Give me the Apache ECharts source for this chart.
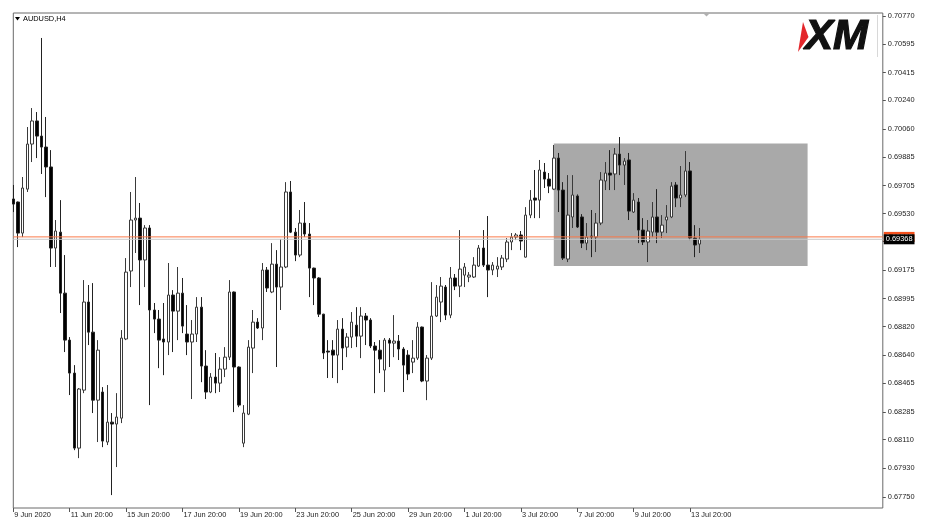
<!DOCTYPE html>
<html><head><meta charset="utf-8">
<script src="https://cdn.jsdelivr.net/npm/echarts@6/dist/echarts.min.js"></script>
<style>html,body{margin:0;padding:0;background:#fff}#c{width:934px;height:527px}</style>
</head><body><div id="c"></div>
<script>
const symbolName = 'AUDUSD,H4';
const opens = [
0.69621,0.69602,0.69407,0.69683,0.69966,0.70111,0.70016,0.69947,0.69822,0.69313,
0.69413,0.69030,0.68735,0.68528,0.68057,0.68421,0.68974,0.68785,0.68358,0.68409,
0.68095,0.68220,0.68208,0.68245,0.68742,0.69169,0.69489,0.69501,0.69238,0.69439,
0.68924,0.68867,0.68742,0.68723,0.69018,0.68917,0.69030,0.68773,0.68723,0.68773,
0.68942,0.68572,0.68409,0.68503,0.68465,0.68553,0.68628,0.69037,0.68566,0.68088,
0.68270,0.68685,0.68848,0.68811,0.69175,0.69037,0.69212,0.69068,0.69194,0.69665,
0.69413,0.69269,0.69470,0.69401,0.69187,0.69125,0.68898,0.68666,0.68672,0.68641,
0.68804,0.68691,0.68754,0.68829,0.68760,0.68886,0.68861,0.68698,0.68672,0.68547,
0.68735,0.68716,0.68729,0.68679,0.68641,0.68597,0.68622,0.68817,0.68478,0.68622,
0.68886,0.68974,0.69068,0.68892,0.69125,0.69074,0.69143,0.69131,0.69131,0.69200,
0.69313,0.69206,0.69175,0.69181,0.69194,0.69244,0.69351,0.69382,0.69395,0.69256,
0.69520,0.69627,0.69614,0.69790,0.69746,0.69683,0.69878,0.69677,0.69244,0.69508,
0.69640,0.69508,0.69344,0.69388,0.69382,0.69470,0.69734,0.69784,0.69778,0.69903,
0.69834,0.69866,0.69539,0.69602,0.69426,0.69351,0.69413,0.69508,0.69413,0.69489,
0.69508,0.69709,0.69627,0.69646,0.69797,0.69376,0.69338];
const closes = [
0.69589,0.69407,0.69690,0.69966,0.70111,0.70016,0.69947,0.69822,0.69313,0.69420,
0.69030,0.68735,0.68528,0.68057,0.68428,0.68974,0.68785,0.68358,0.68672,0.68101,
0.68220,0.68208,0.68252,0.68748,0.69162,0.69489,0.69501,0.69238,0.69439,0.68924,
0.68867,0.68735,0.68723,0.69018,0.68917,0.69030,0.68823,0.68723,0.68773,0.68942,
0.68572,0.68409,0.68503,0.68465,0.68553,0.68628,0.69037,0.68566,0.68327,0.68277,
0.68691,0.68848,0.68811,0.69175,0.69062,0.69212,0.69068,0.69194,0.69665,0.69413,
0.69269,0.69470,0.69401,0.69187,0.69125,0.68898,0.68654,0.68660,0.68641,0.68804,
0.68685,0.68754,0.68848,0.68760,0.68886,0.68861,0.68698,0.68672,0.68616,0.68735,
0.68716,0.68729,0.68679,0.68578,0.68522,0.68622,0.68817,0.68478,0.68622,0.68886,
0.69005,0.69074,0.68892,0.69125,0.69074,0.69181,0.69194,0.69143,0.69206,0.69313,
0.69206,0.69175,0.69206,0.69200,0.69250,0.69351,0.69382,0.69395,0.69357,0.69520,
0.69614,0.69614,0.69803,0.69746,0.69702,0.69878,0.69677,0.69250,0.69520,0.69646,
0.69445,0.69344,0.69382,0.69382,0.69470,0.69740,0.69784,0.69771,0.69903,0.69834,
0.69859,0.69545,0.69614,0.69426,0.69351,0.69420,0.69508,0.69413,0.69457,0.69508,
0.69702,0.69627,0.69646,0.69797,0.69376,0.69332,0.69368];
const lows = [
0.69539,0.69319,0.69382,0.69665,0.69853,0.69878,0.69778,0.69633,0.69194,0.69194,
0.68905,0.68660,0.68390,0.68044,0.67994,0.68402,0.68704,0.68277,0.68095,0.68063,
0.68076,0.67762,0.67938,0.68214,0.68735,0.69068,0.69282,0.68955,0.69068,0.68327,
0.68779,0.68559,0.68515,0.68641,0.68660,0.68735,0.68779,0.68641,0.68365,0.68723,
0.68471,0.68365,0.68402,0.68402,0.68409,0.68503,0.68610,0.68283,0.68314,0.68063,
0.68264,0.68528,0.68805,0.68735,0.69037,0.69030,0.68566,0.68924,0.69187,0.69407,
0.69231,0.69256,0.69382,0.69005,0.68955,0.68880,0.68616,0.68497,0.68497,0.68465,
0.68547,0.68628,0.68685,0.68691,0.68622,0.68704,0.68685,0.68402,0.68528,0.68409,
0.68566,0.68628,0.68610,0.68409,0.68484,0.68528,0.68610,0.68471,0.68358,0.68610,
0.68880,0.68848,0.68861,0.68873,0.69049,0.69005,0.69068,0.69099,0.69125,0.69194,
0.69194,0.69005,0.69143,0.69131,0.69175,0.69225,0.69300,0.69363,0.69300,0.69253,
0.69501,0.69501,0.69501,0.69690,0.69658,0.69677,0.69539,0.69238,0.69225,0.69439,
0.69439,0.69313,0.69300,0.69256,0.69288,0.69457,0.69677,0.69677,0.69677,0.69771,
0.69709,0.69489,0.69533,0.69344,0.69332,0.69225,0.69382,0.69344,0.69376,0.69407,
0.69501,0.69570,0.69570,0.69633,0.69363,0.69256,0.69282];
const highs = [
0.69709,0.69605,0.69759,0.70073,0.70192,0.70167,0.70632,0.70136,0.69928,0.69489,
0.69614,0.69269,0.68754,0.68578,0.68434,0.69112,0.69081,0.69093,0.68735,0.68440,
0.68453,0.68277,0.68402,0.68798,0.69250,0.69665,0.69759,0.69596,0.69457,0.69457,
0.68968,0.68924,0.68968,0.69219,0.69049,0.69194,0.69125,0.68955,0.68861,0.69005,
0.69005,0.68672,0.68528,0.68654,0.68628,0.68691,0.69112,0.69040,0.68570,0.68327,
0.68735,0.68924,0.68873,0.69219,0.69194,0.69344,0.69300,0.69370,0.69727,0.69734,
0.69439,0.69552,0.69602,0.69470,0.69190,0.69130,0.68900,0.68735,0.68735,0.68861,
0.68873,0.68779,0.68911,0.68942,0.68942,0.68905,0.68873,0.68723,0.68735,0.68748,
0.68748,0.68892,0.68767,0.68691,0.68672,0.68735,0.68848,0.68820,0.68641,0.69099,
0.69081,0.69131,0.69081,0.69194,0.69150,0.69426,0.69219,0.69162,0.69256,0.69332,
0.69426,0.69514,0.69225,0.69256,0.69269,0.69376,0.69407,0.69407,0.69420,0.69570,
0.69677,0.69803,0.69866,0.69847,0.69784,0.69960,0.69910,0.69727,0.69771,0.69771,
0.69650,0.69526,0.69470,0.69552,0.69533,0.69790,0.69853,0.69928,0.69941,0.70010,
0.69878,0.69910,0.69658,0.69627,0.69501,0.69489,0.69602,0.69683,0.69520,0.69583,
0.69727,0.69727,0.69828,0.69922,0.69853,0.69457,0.69439];
const yTickLabels = ['0.70770','0.70595','0.70415','0.70240','0.70060','0.69885','0.69705','0.69530','0.69355',
  '0.69175','0.68995','0.68820','0.68640','0.68465','0.68285','0.68110','0.67930','0.67750'];
const xTickIdx = [0,12,24,36,48,60,72,84,96,108,120,132,144];
const xTickLabels = ['9 Jun 2020','11 Jun 20:00','15 Jun 20:00','17 Jun 20:00','19 Jun 20:00','23 Jun 20:00',
  '25 Jun 20:00','29 Jun 20:00','1 Jul 20:00','3 Jul 20:00','7 Jul 20:00','9 Jul 20:00','13 Jul 20:00'];
const askPrice = 0.69383;
const bidPrice = 0.69368;
const boxStartBar = 115, boxEndBar = 169;
const boxHigh = 0.69969, boxLow = 0.69200;
const totalSlots = 186;

// H4 bar times (weekdays only), starting 9 Jun 2020 20:00
const months = ['Jan','Feb','Mar','Apr','May','Jun','Jul','Aug','Sep','Oct','Nov','Dec'];
const categories = [];
let t = Date.UTC(2020, 5, 9, 20);
while (categories.length < totalSlots) {
  const d = new Date(t);
  const wd = d.getUTCDay();
  if (wd !== 0 && wd !== 6) {
    categories.push(d.getUTCDate() + ' ' + months[d.getUTCMonth()] + ' ' + String(d.getUTCHours()).padStart(2, '0') + ':00');
  }
  t += 4 * 3600 * 1000;
}
const labelAt = {};
xTickIdx.forEach((i, k) => { labelAt[i] = xTickLabels[k]; });
const candles = opens.map((o, i) => [o, closes[i], lows[i], highs[i]]);
const yTickValues = yTickLabels.map(Number);
const firstCat = categories[0], lastCat = categories[totalSlots - 1];

const FONT = 'Liberation Sans, Arial, sans-serif';
const FS = 7.4;
function priceLine(price, color, labelBg, z) {
  return {
    type: 'line', z: z, silent: true, symbol: 'none', animation: false,
    data: [[firstCat, price], [lastCat, price]],
    lineStyle: {color: color, width: 1, type: 'solid'},
    endLabel: {show: true, distance: 1, formatter: price.toFixed(5), color: '#fff', backgroundColor: labelBg,
      padding: [2, 2, 1, 2], fontSize: FS, fontFamily: FONT}
  };
}
const chart = echarts.init(document.getElementById('c'), null, {renderer: 'canvas'});
chart.setOption({
  animation: false,
  backgroundColor: '#ffffff',
  grid: {left: 13.3, right: 51.2, top: 13, bottom: 19, show: true, borderColor: '#6a6a6a', borderWidth: 1, backgroundColor: 'transparent'},
  xAxis: {
    type: 'category', data: categories, boundaryGap: false,
    axisLine: {show: false},
    axisTick: {show: true, interval: (i) => labelAt[i] !== undefined, length: 4, lineStyle: {color: '#555'}},
    axisLabel: {interval: (i) => labelAt[i] !== undefined, formatter: (v, i) => labelAt[i] || '',
      align: 'left', margin: 3, padding: [0, 0, 0, 1], fontSize: FS, fontFamily: FONT, color: '#222'},
    splitLine: {show: false}
  },
  yAxis: {
    type: 'value', position: 'right', min: 0.676809, max: 0.707888,
    axisLine: {show: false},
    axisTick: {show: true, customValues: yTickValues, length: 3, lineStyle: {color: '#555'}},
    axisLabel: {customValues: yTickValues, formatter: (v) => v.toFixed(5), margin: 5, fontSize: FS, fontFamily: FONT, color: '#222'},
    splitLine: {show: false}
  },
  series: [{
    type: 'candlestick', data: candles, barWidth: 3, clip: true, z: 3,
    itemStyle: {color: '#ffffff', color0: '#000000', borderColor: '#3a3a3a', borderColor0: '#222222', borderWidth: 1},
    markArea: {silent: true, itemStyle: {color: '#a9a9a9', opacity: 1},
      data: [[{xAxis: categories[boxStartBar], yAxis: boxHigh}, {xAxis: categories[boxEndBar], yAxis: boxLow}]]}
  },
  priceLine(bidPrice, '#c8c8c8', '#000', 6),
  priceLine(askPrice, '#fb7a4a', '#f4511e', 5)
  ],
  graphic: [
    {type: 'polygon', shape: {points: [[15, 17], [20, 17], [17.5, 20.5]]}, style: {fill: '#000'}},
    {type: 'text', x: 23, y: 19, style: {text: symbolName, fontSize: FS, fontFamily: FONT, fill: '#000', verticalAlign: 'middle'}},
    {type: 'polygon', shape: {points: [[703, 13], [710, 13], [706.5, 16.5]]}, style: {fill: '#b0b0b0'}},
    {type: 'polygon', shape: {points: [[803, 22], [808.5, 37], [798, 52]]}, style: {fill: '#e3262b'}},
    {type: 'text', x: 805, y: 37, style: {text: 'XM', fontSize: 42, fontWeight: 'bold', fontStyle: 'italic', fontFamily: FONT, fill: '#111', stroke: '#111', lineWidth: 1.2, verticalAlign: 'middle'}},
    {type: 'line', shape: {x1: 877.5, y1: 15, x2: 877.5, y2: 57}, style: {stroke: '#d8d8d8', lineWidth: 1}}
  ]
});
</script></body></html>
